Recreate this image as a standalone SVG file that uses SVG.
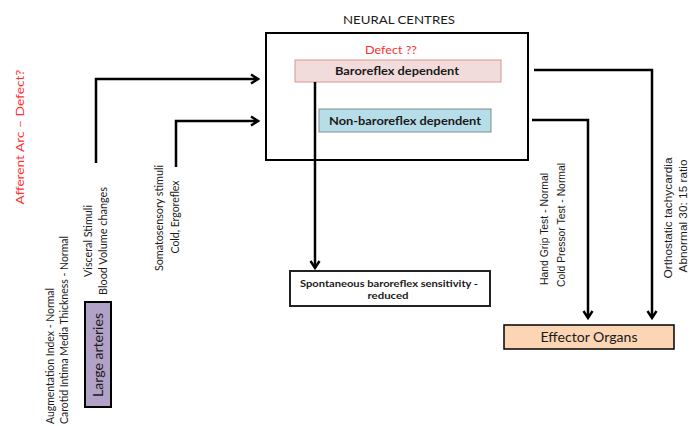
<svg xmlns="http://www.w3.org/2000/svg" width="690" height="426" viewBox="0 0 690 426">
<style>
.c{font-family:Lato,"Open Sans","Liberation Sans",sans-serif;fill:#1a1a1a}
.n{font-family:"Liberation Sans",Arial,sans-serif;fill:#1a1a1a;font-size:11px}
.b{font-weight:bold}
.red{fill:#ff3030}
.conn{fill:none;stroke:#000;stroke-width:2.5}
</style>
<defs>
<marker id="arr" viewBox="0 0 12 12" refX="10" refY="6" markerWidth="12" markerHeight="12" orient="auto" markerUnits="userSpaceOnUse">
<path d="M3,1.5 L10,6 L3,10.5" fill="none" stroke="#000" stroke-width="2.4"/>
</marker>
</defs>
<rect width="690" height="426" fill="#fff"/>

<g id="neural-centres">
<rect x="266" y="33" width="262" height="127" fill="#fff" stroke="#000" stroke-width="2"/>
<text class="c" x="399" y="24" font-size="12" text-anchor="middle" textLength="112" lengthAdjust="spacingAndGlyphs">NEURAL CENTRES</text>
<text class="c red" x="391" y="54" font-size="11.5" text-anchor="middle" textLength="52" lengthAdjust="spacingAndGlyphs">Defect ??</text>
</g>

<g id="baroreflex">
<rect x="295" y="60" width="206" height="22" fill="#f2dcdb" stroke="#d99694" stroke-width="1"/>
<text class="c b" x="397" y="75" font-size="11" text-anchor="middle" textLength="124" lengthAdjust="spacingAndGlyphs">Baroreflex dependent</text>
</g>

<g id="non-baroreflex">
<rect x="319" y="109" width="172" height="23" fill="#b7dde8" stroke="#7f8c8d" stroke-width="1"/>
<text class="c b" x="405" y="125" font-size="11" text-anchor="middle" textLength="152" lengthAdjust="spacingAndGlyphs">Non-baroreflex dependent</text>
</g>

<g id="spontaneous">
<rect x="290" y="271" width="200" height="35" fill="#fff" stroke="#222" stroke-width="2"/>
<text class="c b" x="389" y="287" font-size="10" text-anchor="middle" textLength="178" lengthAdjust="spacingAndGlyphs">Spontaneous baroreflex sensitivity -</text>
<text class="c b" x="388" y="299" font-size="10" text-anchor="middle" textLength="41" lengthAdjust="spacingAndGlyphs">reduced</text>
</g>

<g id="effector-organs">
<rect x="504" y="325" width="170" height="24" fill="#fcd5b4" stroke="#000" stroke-width="1.5"/>
<text class="c" x="589" y="342" font-size="12.5" text-anchor="middle" textLength="97" lengthAdjust="spacingAndGlyphs">Effector Organs</text>
</g>

<g id="large-arteries">
<rect x="85" y="302" width="26" height="105" fill="#b3a2c7" stroke="#000" stroke-width="2"/>
<text class="c" transform="translate(103,355) rotate(-90)" font-size="13" text-anchor="middle" textLength="84" lengthAdjust="spacingAndGlyphs">Large arteries</text>
</g>

<g id="afferent-arc">
<text class="c red" transform="translate(24,137) rotate(-90)" font-size="12" text-anchor="middle" textLength="135" lengthAdjust="spacingAndGlyphs">Afferent  Arc – Defect?</text>
</g>

<g id="large-artery-tests">
<text class="c" transform="translate(54,424) rotate(-90)" font-size="10.5" textLength="136" lengthAdjust="spacingAndGlyphs">Augmentation Index - Normal</text>
<text class="c" transform="translate(68,424) rotate(-90)" font-size="10.5" textLength="188" lengthAdjust="spacingAndGlyphs">Carotid Intima Media Thickness - Normal</text>
</g>

<g id="visceral-stimuli">
<text class="c" transform="translate(92,241) rotate(-90)" font-size="10.5" text-anchor="middle" textLength="72" lengthAdjust="spacingAndGlyphs">Visceral Stimuli</text>
<text class="c" transform="translate(107,241) rotate(-90)" font-size="10.5" text-anchor="middle" textLength="108" lengthAdjust="spacingAndGlyphs">Blood Volume changes</text>
</g>

<g id="somatosensory-stimuli">
<text class="c" transform="translate(163,218) rotate(-90)" font-size="10.5" text-anchor="middle" textLength="106" lengthAdjust="spacingAndGlyphs">Somatosensory stimuli</text>
<text class="c" transform="translate(179,217) rotate(-90)" font-size="10.5" text-anchor="middle" textLength="73" lengthAdjust="spacingAndGlyphs">Cold, Ergoreflex</text>
</g>

<g id="efferent-tests">
<text class="n" transform="translate(548,229) rotate(-90)" text-anchor="middle" textLength="112" lengthAdjust="spacingAndGlyphs">Hand Grip Test  - Normal</text>
<text class="n" transform="translate(565,225) rotate(-90)" text-anchor="middle" textLength="124" lengthAdjust="spacingAndGlyphs">Cold Pressor Test  - Normal</text>
</g>

<g id="orthostatic">
<text class="n" transform="translate(672,218) rotate(-90)" text-anchor="middle" textLength="121" lengthAdjust="spacingAndGlyphs">Orthostatic tachycardia</text>
<text class="n" transform="translate(687,216) rotate(-90)" text-anchor="middle" textLength="113" lengthAdjust="spacingAndGlyphs">Abnormal 30: 15 ratio</text>
</g>

<g id="connectors">
<path class="conn" d="M96,163 V79 H258" marker-end="url(#arr)"/>
<path class="conn" d="M176,167 V121 H258" marker-end="url(#arr)"/>
<path class="conn" d="M315,82 V268" marker-end="url(#arr)"/>
<path class="conn" d="M534,70 H652 V318" marker-end="url(#arr)"/>
<path class="conn" d="M532,120 H588 V318" marker-end="url(#arr)"/>
</g>
</svg>
